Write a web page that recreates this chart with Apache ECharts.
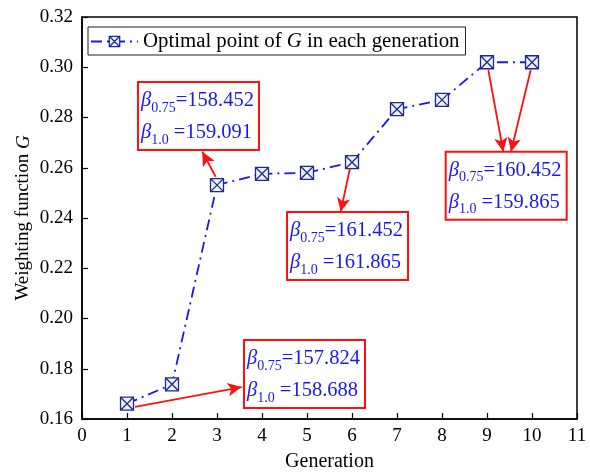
<!DOCTYPE html>
<html>
<head>
<meta charset="utf-8">
<script src="https://cdn.jsdelivr.net/npm/echarts@6/dist/echarts.min.js"></script>
<style>
  html, body { margin: 0; padding: 0; background: #fff; }
  #chart { width: 590px; height: 475px; }
</style>
</head>
<body>
<div id="chart"></div>
<script>
// Optimal weighting function G found in each generation
const generations = [1, 2, 3, 4, 5, 6, 7, 8, 9, 10];
const gValues = [0.1661, 0.1738, 0.2531, 0.2576, 0.2580, 0.2622, 0.2833, 0.2870, 0.3020, 0.3020];

// Axis ticks
const xTicks = [0, 1, 2, 3, 4, 5, 6, 7, 8, 9, 10, 11];
const yTicks = [0.16, 0.18, 0.20, 0.22, 0.24, 0.26, 0.28, 0.30, 0.32];

// Reliability index notes (beta at 0.75 and 1.0)
const beta075 = ['157.824', '158.452', '161.452', '160.452'];
const beta10 = ['158.688', '159.091', '161.865', '159.865'];

const FONT = '"Liberation Serif", "Times New Roman", serif';
const BLUE = '#1818f0';
const RED = '#ff1010';
const MARKER_FILL = '#eef1fb';
const MARKER_EDGE = '#1c2a8c';

// Where each note box sits (top-left corner, in axis units)
const noteAnchors = [
  [3.60, 0.1914],
  [1.244, 0.2941],
  [4.556, 0.2424],
  [8.082, 0.2664]
];

// Pointer arrows from a generation's point to its note (axis units)
const arrows = [
  [[1.178, 0.1648], [3.549, 0.1727]],
  [[2.971, 0.2564], [2.673, 0.2664]],
  [[5.956, 0.2599], [5.749, 0.2425]],
  [[9.029, 0.2989], [9.362, 0.2664]],
  [[9.971, 0.2989], [9.533, 0.2664]]
];

const crossBox = 'path://M0,0 L10,0 L10,10 L0,10 Z M0,0 L10,10 M10,0 L0,10';
const seriesName = 'Optimal point of G in each generation';

const chart = echarts.init(document.getElementById('chart'), null, { renderer: 'canvas' });

const option = {
  animation: false,
  backgroundColor: '#fff',
  grid: {
    left: 82, right: 13, top: 17, bottom: 56,
    outerBoundsMode: 'none',
    containLabel: false,
    show: true, borderColor: '#000', borderWidth: 1.5, backgroundColor: 'transparent'
  },
  legend: {
    left: 88, top: 27,
    padding: [4, 6, 3, 2],
    borderColor: '#222', borderWidth: 1,
    itemWidth: 47, itemHeight: 13,
    data: [{
      name: seriesName,
      itemStyle: { color: MARKER_FILL, borderColor: MARKER_EDGE, borderWidth: 1.3 }
    }],
    formatter: 'Optimal point of {i|G} in each generation',
    textStyle: {
      fontFamily: FONT, fontSize: 20.8, color: '#000',
      rich: { i: { fontFamily: FONT, fontSize: 20.8, fontStyle: 'italic', color: '#000' } }
    }
  },
  xAxis: {
    type: 'value',
    min: xTicks[0], max: xTicks[xTicks.length - 1], interval: 1,
    name: 'Generation',
    nameLocation: 'middle', nameGap: 33,
    nameMoveOverlap: false,
    nameTextStyle: { fontFamily: FONT, fontSize: 20, color: '#000' },
    axisLine: { lineStyle: { color: '#000', width: 1.5 } },
    axisTick: { inside: true, length: 6, lineStyle: { color: '#000', width: 1.2 } },
    axisLabel: { fontFamily: FONT, fontSize: 19, color: '#000', margin: 8 },
    splitLine: { show: false }
  },
  yAxis: {
    type: 'value',
    min: yTicks[0], max: yTicks[yTicks.length - 1], interval: 0.02,
    name: 'Weighting function {i|G}',
    nameLocation: 'middle', nameGap: 49,
    nameMoveOverlap: false,
    nameTextStyle: {
      fontFamily: FONT, fontSize: 19, color: '#000',
      rich: { i: { fontFamily: FONT, fontSize: 19, fontStyle: 'italic', color: '#000' } }
    },
    axisLine: { lineStyle: { color: '#000', width: 1.5 } },
    axisTick: { inside: true, length: 6, lineStyle: { color: '#000', width: 1.2 } },
    axisLabel: {
      fontFamily: FONT, fontSize: 19, color: '#000', margin: 9,
      formatter: v => v.toFixed(2)
    },
    splitLine: { show: false }
  },
  series: [{
    name: seriesName,
    type: 'line',
    data: generations.map((g, i) => [g, gValues[i]]),
    symbol: crossBox,
    symbolSize: 13,
    showAllSymbol: true,
    lineStyle: { color: BLUE, width: 1.8, type: [11, 5, 2, 5] },
    itemStyle: { color: MARKER_FILL, borderColor: MARKER_EDGE, borderWidth: 1.3 },
    emphasis: { disabled: true },
    z: 3,
    markLine: {
      silent: true,
      symbol: ['none', 'arrow'],
      symbolSize: [10, 14],
      label: { show: false },
      lineStyle: { color: RED, width: 1.8, type: 'solid' },
      emphasis: { disabled: true },
      data: arrows.map(a => [{ coord: a[0] }, { coord: a[1] }])
    }
  }]
};

chart.setOption(option);

// Note boxes with the beta values, placed through the grid's own coordinate system
const noteRich = {
  b: { fontFamily: FONT, fontSize: 20.5, fontStyle: 'italic', fill: BLUE, lineHeight: 28 },
  s: { fontFamily: FONT, fontSize: 14, fill: BLUE, verticalAlign: 'bottom', lineHeight: 28 },
  n: { fontFamily: FONT, fontSize: 20.5, fill: BLUE, lineHeight: 28 }
};

const notes = noteAnchors.map((anchor, i) => {
  const p = chart.convertToPixel({ gridIndex: 0 }, anchor);
  return {
    type: 'group',
    x: p[0], y: p[1],
    z: 10,
    silent: true,
    children: [
      {
        type: 'rect',
        shape: { x: 0, y: 0, width: 121, height: 68 },
        style: { fill: '#fff', stroke: RED, lineWidth: 2 }
      },
      {
        type: 'text',
        x: 3, y: 19,
        style: {
          text: '{b|β}{s|0.75}{n|=' + beta075[i] + '}',
          rich: noteRich, verticalAlign: 'middle', align: 'left'
        }
      },
      {
        type: 'text',
        x: 3, y: 51,
        style: {
          text: '{b|β}{s|1.0}{n| =' + beta10[i] + '}',
          rich: noteRich, verticalAlign: 'middle', align: 'left'
        }
      }
    ]
  };
});

chart.setOption({ graphic: notes });
</script>
</body>
</html>
